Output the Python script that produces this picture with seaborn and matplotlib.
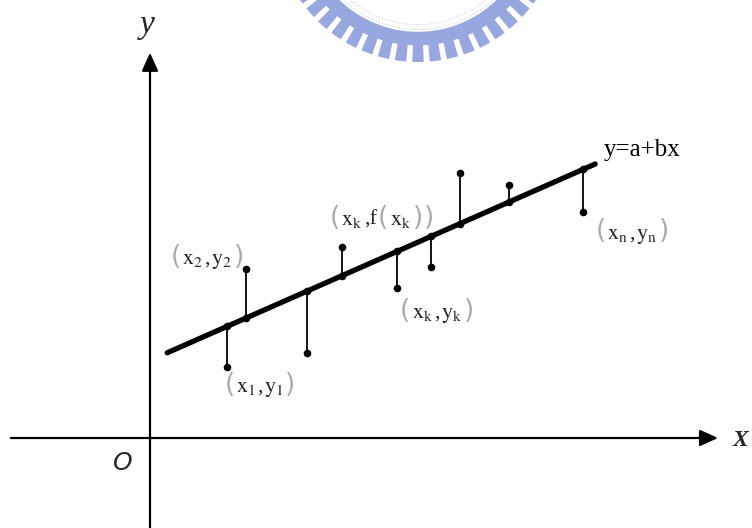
"""
Least-squares sketch: observations (x_k, y_k), their vertical offsets to the
fitted line y = a + bx, drawn on bare arrow axes.
"""
import matplotlib
matplotlib.use("Agg")
import numpy as np
import pandas as pd
import matplotlib.pyplot as plt
import seaborn as sns
from matplotlib.patches import Wedge, Arc
from matplotlib.offsetbox import TextArea, HPacker, AnnotationBbox


# observations and the fitted value f(x_k) below / above each one
x_obs = [1.93, 2.40, 3.93, 4.80, 6.18, 7.03, 7.75, 8.98, 10.83]
y_obs = [1.78, 4.23, 2.13, 4.78, 3.75, 4.28, 6.63, 6.33, 5.65]
y_fit = [2.79, 3.00, 3.67, 4.06, 4.67, 5.04, 5.36, 5.90, 6.72]

# ends of the regression line
line_x = [0.43, 11.13]
line_y = [2.13, 6.85]


def sub(base, idx):
    return r"$\mathrm{%s}_{\mathrm{%s}}$" % (base, idx)


# point labels: (pieces, x, y); pieces are (text, is_bracket)
point_labels = [
    ([("(", True), (sub("x", "2"), False), (",", False), (sub("y", "2"), False), (")", True)], 1.43, 4.52),
    ([("(", True), (sub("x", "1"), False), (",", False), (sub("y", "1"), False), (")", True)], 2.75, 1.32),
    ([("(", True), (sub("x", "k"), False), (",f", False), ("(", True), (sub("x", "k"), False), (")", True), (")", True)], 5.80, 5.50),
    ([("(", True), (sub("x", "k"), False), (",", False), (sub("y", "k"), False), (")", True)], 7.18, 3.17),
    ([("(", True), (sub("x", "n"), False), (",", False), (sub("y", "n"), False), (")", True)], 12.05, 5.15),
]

X_MIN, X_MAX = -3.75, 15.05
Y_MIN, Y_MAX = -2.25, 10.95
LOGO_COLOR = "#97a7e0"


def draw_logo(ax):
    """Faint cog-wheel watermark cut by the top edge."""
    centre = (6.7, 12.975)
    ax.add_patch(Wedge(centre, 3.16, 200, 340, width=0.34, color=LOGO_COLOR, lw=0))
    for ang in np.arange(214, 327, 7):
        ax.add_patch(Wedge(centre, 3.575, ang - 2.3, ang + 2.3, width=0.47,
                           color=LOGO_COLOR, lw=0))
    for r in (2.64, 2.76):
        ax.add_patch(Arc(centre, 2 * r, 2 * r, theta1=205, theta2=335,
                         color="#c8cfec", lw=0.8, ls=":"))


def coord_label(ax, pieces, x, y):
    boxes = []
    for txt, bracket in pieces:
        if bracket:
            props = dict(color="#ababab", fontsize=19, family="DejaVu Sans")
        else:
            props = dict(color="#262626", fontsize=16, family="Liberation Serif")
        boxes.append(TextArea(txt, textprops=props))
    pack = HPacker(children=boxes, align="baseline", pad=0, sep=1)
    ax.add_artist(AnnotationBbox(pack, (x, y), frameon=False, pad=0,
                                 box_alignment=(0.5, 0.5)))


def main():
    sns.set_theme(style="white")
    plt.rcParams["mathtext.fontset"] = "stix"

    fig = plt.figure(figsize=(7.52, 5.28), dpi=100)
    ax = fig.add_axes([0, 0, 1, 1])
    ax.set_xlim(X_MIN, X_MAX)
    ax.set_ylim(Y_MIN, Y_MAX)
    ax.axis("off")

    draw_logo(ax)

    arrow = dict(arrowstyle="-|>,head_length=0.55,head_width=0.25", lw=1.6,
                 color="black", mutation_scale=20, shrinkA=0, shrinkB=0)
    ax.annotate("", xy=(14.2, 0), xytext=(-3.48, 0), arrowprops=arrow)
    ax.annotate("", xy=(0, 9.63), xytext=(0, Y_MIN), arrowprops=arrow)

    df = pd.DataFrame({"x": x_obs, "y": y_obs, "fit": y_fit})
    sns.lineplot(x=line_x, y=line_y, color="black", lw=3.8, ax=ax)
    ax.vlines(df["x"], df["y"], df["fit"], color="black", lw=1.3)
    sns.scatterplot(data=df, x="x", y="y", s=30, color="black", linewidth=0, ax=ax)
    sns.scatterplot(data=df, x="x", y="fit", s=30, color="black", linewidth=0, ax=ax)

    for pieces, lx, ly in point_labels:
        coord_label(ax, pieces, lx, ly)

    ax.text(11.35, 7.2, "y=a+bx", fontsize=18, family="Liberation Serif",
            ha="left", va="center", color="black")
    ax.text(-0.075, 10.33, "y", fontsize=24, family="Liberation Serif",
            style="italic", ha="center", va="center")
    ax.text(14.75, -0.05, "X", fontsize=17, family="Liberation Serif",
            style="italic", weight="bold", ha="center", va="center")
    ax.text(-0.68, -0.62, "O", fontsize=18, family="DejaVu Sans",
            style="italic", ha="center", va="center")

    fig.savefig("out.png", dpi=100)


if __name__ == "__main__":
    main()
